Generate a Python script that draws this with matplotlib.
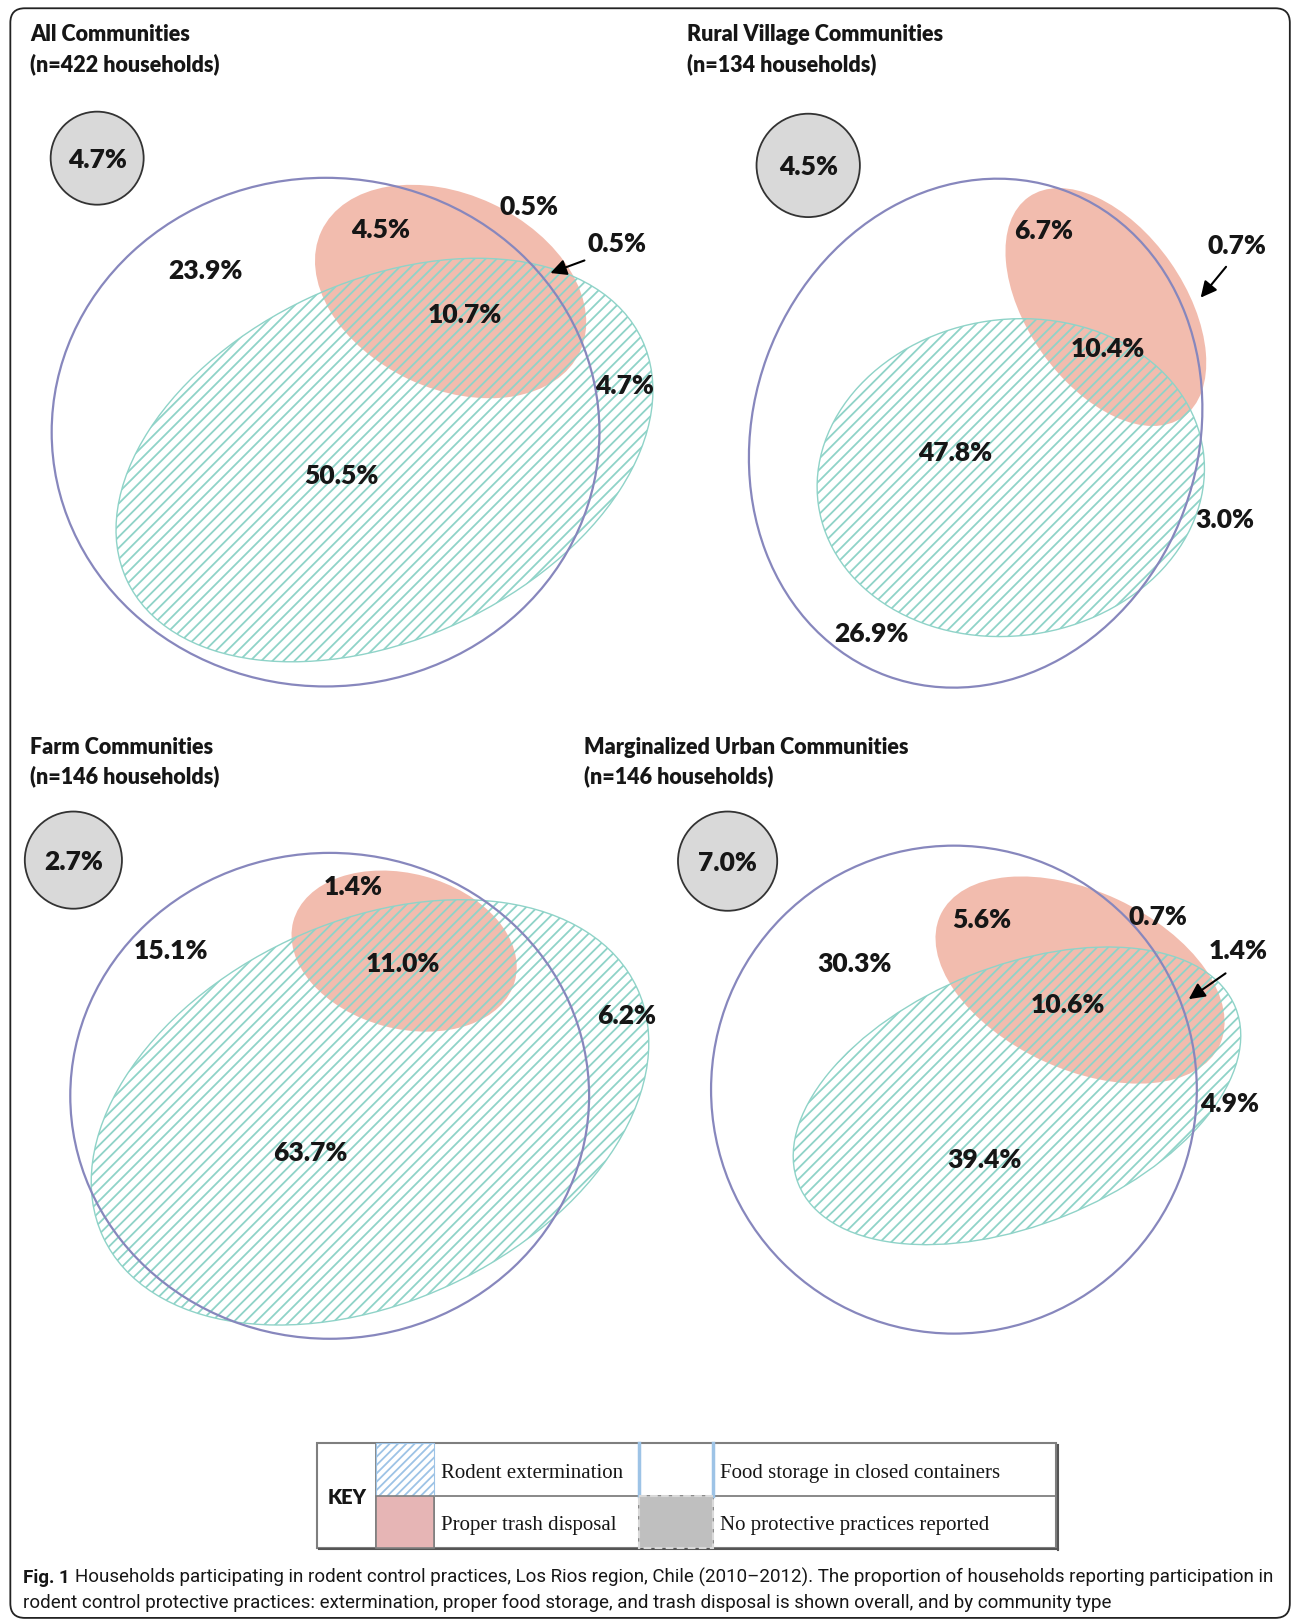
import matplotlib
matplotlib.use("Agg")
import matplotlib.pyplot as plt
from matplotlib import font_manager
from matplotlib.patches import Ellipse, Circle, Rectangle, FancyBboxPatch

# ---- data (percent of households in each region of the diagram) ----
titles = ["All Communities", "Rural Village Communities",
          "Farm Communities", "Marginalized Urban Communities"]
households = [422, 134, 146, 146]
no_practice = [4.7, 4.5, 2.7, 7.0]
storage_only = [23.9, 26.9, 15.1, 30.3]
storage_trash = [4.5, 6.7, 1.4, 5.6]
trash_only = [0.5, 0.7, None, 0.7]
trash_exterm = [0.5, None, None, 1.4]
all_three = [10.7, 10.4, 11.0, 10.6]
storage_exterm = [50.5, 47.8, 63.7, 39.4]
exterm_only = [4.7, 3.0, 6.2, 4.9]

key_labels = [["Rodent extermination", "Food storage in closed containers"],
              ["Proper trash disposal", "No protective practices reported"]]
caption_bold = "Fig. 1"
caption_1 = ("Households participating in rodent control practices, Los Rios region, Chile (2010\u20132012). "
             "The proportion of households reporting participation in")
caption_2 = ("rodent control protective practices: extermination, proper food storage, "
             "and trash disposal is shown overall, and by community type")

# ---- layout (canvas units, y downwards) ----
W, H = 1253, 1568
layout = [
    dict(title=(29, 40), none=(94, 153, 45),
         food=(315, 418, 530, 492, 0), exterm=(372, 445, 550, 346, -25), trash=(436, 282, 276, 188, 25),
         pos=dict(storage_only=(199, 262), storage_trash=(368, 222), trash_only=(512, 200),
                  trash_exterm=(597, 236), all_three=(450, 305), exterm_only=(604, 373),
                  storage_exterm=(330, 460)),
         arrow=dict(trash_exterm=((568, 251), (530, 265)))),
    dict(title=(665, 40), none=(782, 160, 50),
         food=(944, 419, 500, 430, -70), exterm=(978, 462, 376, 306, -8), trash=(1070, 297, 260, 152, 55),
         pos=dict(storage_only=(843, 613), storage_trash=(1010, 223), trash_only=(1197, 238),
                  all_three=(1072, 338), exterm_only=(1185, 503), storage_exterm=(924, 438)),
         arrow=dict(trash_only=((1188, 256), (1160, 290)))),
    dict(title=(29, 729), none=(71, 832, 47),
         food=(319, 1060, 502, 470, 0), exterm=(358, 1076, 570, 368, -25), trash=(391, 920, 222, 150, 15),
         pos=dict(storage_only=(165, 920), storage_trash=(342, 858), all_three=(390, 932),
                  exterm_only=(606, 983), storage_exterm=(300, 1115)),
         arrow=dict()),
    dict(title=(565, 729), none=(704, 833, 48),
         food=(923, 1054, 470, 472, 0), exterm=(984, 1060, 456, 250, -22), trash=(1045, 948, 298, 172, 25),
         pos=dict(storage_only=(827, 932), storage_trash=(950, 890), trash_only=(1120, 887),
                  trash_exterm=(1198, 920), all_three=(1033, 972), exterm_only=(1190, 1068),
                  storage_exterm=(953, 1122)),
         arrow=dict(trash_exterm=((1188, 940), (1148, 968)))),
]
regions = dict(storage_only=storage_only, storage_trash=storage_trash, trash_only=trash_only,
               trash_exterm=trash_exterm, all_three=all_three, exterm_only=exterm_only,
               storage_exterm=storage_exterm)

PURPLE = "#8787bd"
TEAL = "#8fd3c8"
RED = "#f2bcae"
GRAY = "#d9d9d9"
INK = "#161616"
sans = ["Lato", "DejaVu Sans"]
serif = ["Liberation Serif", "DejaVu Serif"]
names = {f.name for f in font_manager.fontManager.ttflist}
cap_font = ["Liberation Sans Narrow", "DejaVu Sans"] if "Liberation Sans Narrow" in names else ["Roboto", "DejaVu Sans"]

plt.rcParams["hatch.linewidth"] = 1.3

fig = plt.figure(figsize=(12.95, 16.21), dpi=100)
ax = fig.add_axes([0, 0, 1, 1])
ax.set_xlim(0, W)
ax.set_ylim(H, 0)
ax.axis("off")

# outer frame
ax.add_patch(FancyBboxPatch((10, 8), 1238, 1557, boxstyle="round,pad=0,rounding_size=14",
                            fc="white", ec="#222222", lw=1.3, zorder=0))

for i, L in enumerate(layout):
    tx, ty = L["title"]
    ax.text(tx, ty, titles[i], family=sans, fontweight="heavy", fontsize=15.5, color=INK, va="baseline")
    ax.text(tx, ty + 29, "(n=%d households)" % households[i], family=sans, fontweight="heavy",
            fontsize=15.5, color=INK, va="baseline")

    cx, cy, r = L["none"]
    ax.add_patch(Circle((cx, cy), r, fc=GRAY, ec="#333333", lw=1.3, zorder=2))
    ax.text(cx, cy + 2, "%.1f%%" % no_practice[i], family=sans, fontweight="heavy", fontsize=19,
            ha="center", va="center", color=INK, zorder=6)

    x, y, w, h, a = L["trash"]
    ax.add_patch(Ellipse((x, y), w, h, angle=a, fc=RED, ec="none", zorder=2))
    x, y, w, h, a = L["exterm"]
    ax.add_patch(Ellipse((x, y), w, h, angle=a, fc="none", ec=TEAL, lw=1.0, hatch="///", zorder=3))
    x, y, w, h, a = L["food"]
    ax.add_patch(Ellipse((x, y), w, h, angle=a, fc="none", ec=PURPLE, lw=1.6, zorder=4))

    for key, (lx, ly) in L["pos"].items():
        v = regions[key][i]
        if v is None:
            continue
        ax.text(lx, ly, "%.1f%%" % v, family=sans, fontweight="heavy", fontsize=19,
                ha="center", va="center", color=INK, zorder=6)
    for key, (p0, p1) in L["arrow"].items():
        ax.annotate("", xy=p1, xytext=p0, zorder=6,
                    arrowprops=dict(arrowstyle="-|>", color="black", lw=1.5, mutation_scale=24))

# ---- key table ----
kx0, kx1, ky0, ky1, kym = 307, 1022, 1396, 1497, 1447
cols = [364, 420, 618, 690]
ax.add_patch(Rectangle((kx0, ky0), kx1 - kx0, ky1 - ky0, fc="white", ec="#7f7f7f", lw=1.5, zorder=2))
ax.plot([cols[0], kx1], [kym, kym], color="#7f7f7f", lw=1.3, zorder=3)
for c in cols:
    ax.plot([c, c], [ky0, ky1], color="#7f7f7f", lw=1.3, zorder=3)
ax.plot([kx0 + 2, kx1 + 2], [ky1 + 1.5, ky1 + 1.5], color="#555555", lw=1.5, zorder=3)
ax.plot([kx1 + 1.5, kx1 + 1.5], [ky0 + 2, ky1 + 2], color="#555555", lw=1.5, zorder=3)
ax.text((kx0 + cols[0]) / 2, kym + 2, "KEY", family=sans, fontweight="heavy", fontsize=14.5,
        ha="center", va="center", color=INK, zorder=4)
ax.add_patch(Rectangle((cols[0], ky0), cols[1] - cols[0], kym - ky0, fc="white", ec="#9dc3e6",
                       lw=0.8, hatch="////", zorder=3))
ax.add_patch(Rectangle((cols[0], kym), cols[1] - cols[0], ky1 - kym, fc="#e6b5b5", ec="#7f7f7f",
                       lw=1.2, zorder=3))
ax.plot([cols[2], cols[2]], [ky0, kym], color="#9dc3e6", lw=2.5, zorder=4)
ax.plot([cols[3], cols[3]], [ky0, kym], color="#9dc3e6", lw=2.5, zorder=4)
ax.add_patch(Rectangle((cols[2], kym), cols[3] - cols[2], ky1 - kym, fc="#bfbfbf", ec="#d9d9d9",
                       lw=1.5, ls="--", zorder=4))
for r_, row in enumerate(key_labels):
    yy = (ky0 + kym) / 2 + 4 if r_ == 0 else (kym + ky1) / 2 + 4
    ax.text(cols[1] + 7, yy, row[0], family=serif, fontsize=15, va="center", color=INK, zorder=4)
    ax.text(cols[3] + 7, yy, row[1], family=serif, fontsize=15, va="center", color=INK, zorder=4)

# ---- caption, sized to the frame width ----
fig.canvas.draw()
rend = fig.canvas.get_renderer()
scale = W / fig.bbox.width


def width_of(t):
    return t.get_window_extent(rend).width * scale


fs = 14
tb = ax.text(22, 1531, caption_bold, family=cap_font, fontweight="bold", fontsize=fs, va="baseline", color=INK)
t1 = ax.text(0, 1531, caption_1, family=cap_font, fontsize=fs, va="baseline", color=INK)
total = width_of(tb) + width_of(t1) + 5
fs = fs * 1218 / total
tb.set_fontsize(fs)
t1.set_fontsize(fs)
t1.set_x(22 + width_of(tb) + 5)
ax.text(22, 1555, caption_2, family=cap_font, fontsize=fs, va="baseline", color=INK)

fig.savefig("out.png", dpi=100)
